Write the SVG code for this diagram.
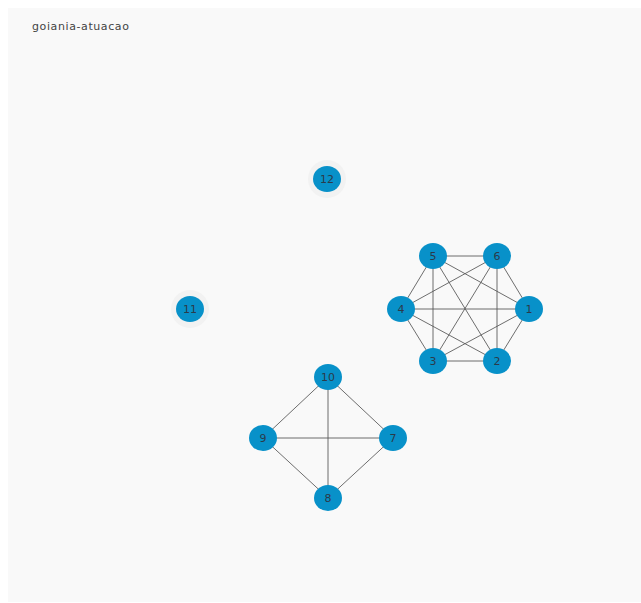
<svg xmlns="http://www.w3.org/2000/svg" width="641" height="603" viewBox="0 0 641 603">
<style>
.n ellipse{fill:#0891c9}
.n text{font-family:"DejaVu Sans",sans-serif;font-size:11px;fill:#2b3a4a;text-anchor:middle;dominant-baseline:central}
.halo{fill:#f2f2f2}
#edges line{stroke:#555;stroke-width:1;stroke-opacity:0.85}
</style>
<rect width="641" height="603" fill="#ffffff"/>
<rect x="8" y="8" width="633" height="594" fill="#f9f9f9"/>
<text x="32" y="30" font-family="DejaVu Sans,sans-serif" font-size="11" letter-spacing="0.6" fill="#444">goiania-atuacao</text>
<g id="edges">
<line x1="433" y1="256" x2="497" y2="256"/>
<line x1="433" y1="256" x2="401" y2="309"/>
<line x1="433" y1="256" x2="529" y2="309"/>
<line x1="433" y1="256" x2="433" y2="361"/>
<line x1="433" y1="256" x2="497" y2="361"/>
<line x1="497" y1="256" x2="401" y2="309"/>
<line x1="497" y1="256" x2="529" y2="309"/>
<line x1="497" y1="256" x2="433" y2="361"/>
<line x1="497" y1="256" x2="497" y2="361"/>
<line x1="401" y1="309" x2="529" y2="309"/>
<line x1="401" y1="309" x2="433" y2="361"/>
<line x1="401" y1="309" x2="497" y2="361"/>
<line x1="529" y1="309" x2="433" y2="361"/>
<line x1="529" y1="309" x2="497" y2="361"/>
<line x1="433" y1="361" x2="497" y2="361"/>
<line x1="328" y1="377" x2="263" y2="438"/>
<line x1="328" y1="377" x2="393" y2="438"/>
<line x1="328" y1="377" x2="328" y2="498"/>
<line x1="263" y1="438" x2="393" y2="438"/>
<line x1="263" y1="438" x2="328" y2="498"/>
<line x1="393" y1="438" x2="328" y2="498"/>
</g>
<g id="n1" class="n"><ellipse cx="529" cy="309" rx="14" ry="13"/><text x="529" y="309">1</text></g>
<g id="n2" class="n"><ellipse cx="497" cy="361" rx="14" ry="13"/><text x="497" y="361">2</text></g>
<g id="n3" class="n"><ellipse cx="433" cy="361" rx="14" ry="13"/><text x="433" y="361">3</text></g>
<g id="n4" class="n"><ellipse cx="401" cy="309" rx="14" ry="13"/><text x="401" y="309">4</text></g>
<g id="n5" class="n"><ellipse cx="433" cy="256" rx="14" ry="13"/><text x="433" y="256">5</text></g>
<g id="n6" class="n"><ellipse cx="497" cy="256" rx="14" ry="13"/><text x="497" y="256">6</text></g>
<g id="n7" class="n"><ellipse cx="393" cy="438" rx="14" ry="13"/><text x="393" y="438">7</text></g>
<g id="n8" class="n"><ellipse cx="328" cy="498" rx="14" ry="13"/><text x="328" y="498">8</text></g>
<g id="n9" class="n"><ellipse cx="263" cy="438" rx="14" ry="13"/><text x="263" y="438">9</text></g>
<g id="n10" class="n"><ellipse cx="328" cy="377" rx="14" ry="13"/><text x="328" y="377">10</text></g>
<g id="n11" class="n"><circle class="halo" cx="190" cy="309" r="19"/><ellipse cx="190" cy="309" rx="14" ry="13"/><text x="190" y="309">11</text></g>
<g id="n12" class="n"><circle class="halo" cx="327" cy="179" r="19"/><ellipse cx="327" cy="179" rx="14" ry="13"/><text x="327" y="179">12</text></g>
</svg>
